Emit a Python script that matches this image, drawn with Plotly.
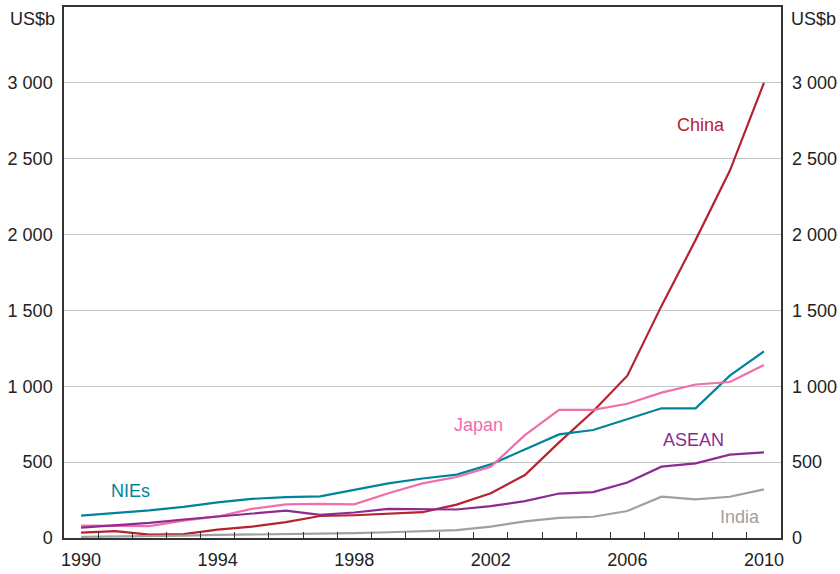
import plotly.graph_objects as go

years = list(range(1990, 2011))
china = [35, 45, 22, 25, 55, 75, 105, 145, 150, 160, 170, 220, 295, 415, 630, 835, 1070, 1530, 1965, 2420, 3000]
nies = [147, 165, 182, 205, 235, 258, 270, 274, 315, 360, 392, 418, 485, 585, 683, 712, 785, 855, 855, 1070, 1230]
japan = [82, 82, 78, 115, 142, 192, 222, 225, 222, 295, 360, 402, 470, 678, 845, 845, 885, 958, 1012, 1028, 1140]
asean = [68, 85, 100, 122, 140, 158, 180, 152, 168, 192, 192, 188, 210, 243, 293, 302, 366, 470, 492, 550, 565]
india = [8, 9, 12, 15, 20, 22, 25, 28, 32, 38, 45, 52, 75, 110, 133, 140, 178, 272, 255, 272, 320]

series_names = ["China", "NIEs", "Japan", "ASEAN", "India"]
series_values = [china, nies, japan, asean, india]
colors = ["#B5232F", "#00849A", "#F06EAA", "#8E2A94", "#A0A0A0"]
label_pos = [(2008.65, 2725), (1991.95, 311), (2002.15, 747), (2008.45, 648), (2009.8, 139)]

y_ticks = [0, 500, 1000, 1500, 2000, 2500, 3000]
y_tick_text = ["0", "500", "1 000", "1 500", "2 000", "2 500", "3 000"]
x_label_years = [1990, 1994, 1998, 2002, 2006, 2010]
year_boundaries = list(range(1991, 2011))

font_family = "Liberation Sans, Arial, sans-serif"
fs = 18

fig = go.Figure()
for name, vals, col in zip(series_names, series_values, colors):
    fig.add_trace(go.Scatter(
        x=[y + 0.5 for y in years], y=vals, mode="lines", name=name,
        line=dict(color=col, width=2.2), showlegend=False,
    ))
# invisible trace so the secondary axes are drawn
fig.add_trace(go.Scatter(x=[1990.5], y=[0], xaxis="x2", yaxis="y2", mode="lines",
                         line=dict(width=0), showlegend=False, hoverinfo="skip"))

for name, (lx, ly), col in zip(series_names, label_pos, colors):
    fig.add_annotation(x=lx, y=ly, text=name, showarrow=False,
                       font=dict(size=fs, color=col, family=font_family))

fig.add_annotation(xref="paper", yref="paper", x=0, y=1, xshift=-7, yshift=-12,
                   xanchor="right", yanchor="middle", text="US$b", showarrow=False,
                   font=dict(size=fs, color="#222", family=font_family))
fig.add_annotation(xref="paper", yref="paper", x=1, y=1, xshift=8, yshift=-12,
                   xanchor="left", yanchor="middle", text="US$b", showarrow=False,
                   font=dict(size=fs, color="#222", family=font_family))

fig.update_layout(
    width=840, height=574,
    margin=dict(l=64, r=59, t=7, b=36, autoexpand=False),
    paper_bgcolor="white", plot_bgcolor="white",
    font=dict(family=font_family, size=fs, color="#222"),
    xaxis=dict(
        range=[1990, 2011], tickvals=year_boundaries, showticklabels=False,
        ticks="inside", ticklen=6, tickcolor="#333", tickwidth=1.3,
        showgrid=False, showline=True, linecolor="#333", linewidth=1.5,
        mirror=True, zeroline=False, automargin=False,
    ),
    xaxis2=dict(
        range=[1990, 2011], overlaying="x", anchor="y", side="bottom",
        tickvals=[y + 0.5 for y in x_label_years],
        ticktext=[str(y) for y in x_label_years], ticks="", showgrid=False,
        showline=False, zeroline=False, ticklabelstandoff=9, automargin=False,
    ),
    yaxis=dict(
        range=[0, 3500], tickvals=y_ticks, ticktext=y_tick_text,
        showgrid=True, gridcolor="#C4C4C4", gridwidth=1,
        showline=True, linecolor="#333", linewidth=1.5, mirror=True,
        zeroline=False, ticks="", ticklabelstandoff=6, automargin=False,
    ),
    yaxis2=dict(
        range=[0, 3500], tickvals=y_ticks, ticktext=y_tick_text,
        overlaying="y", side="right", showgrid=False, zeroline=False,
        showline=False, ticks="", ticklabelstandoff=10, automargin=False,
    ),
)

fig.write_html("out.html", config={"displayModeBar": False},
               post_script="document.body.style.margin='0';")
